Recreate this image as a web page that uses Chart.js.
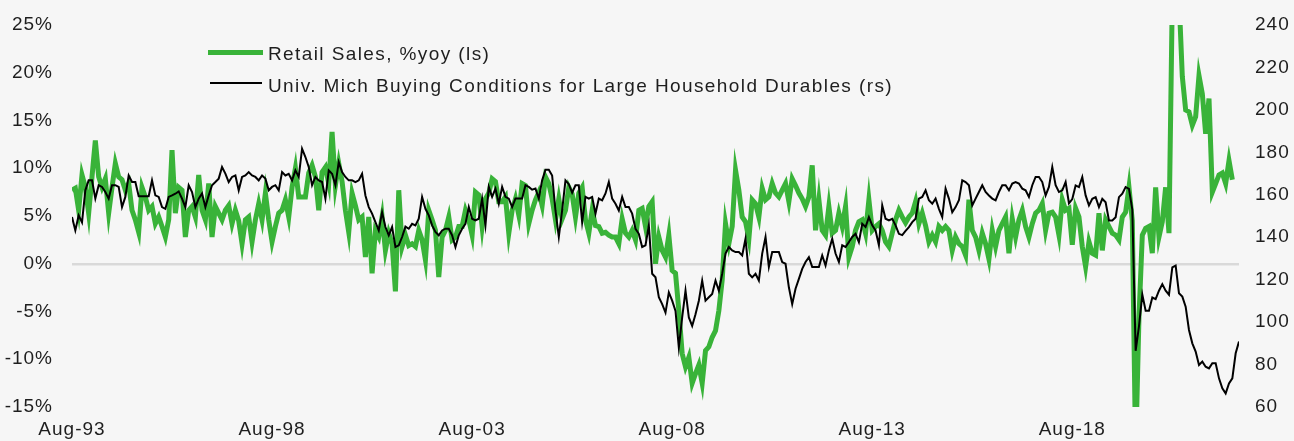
<!DOCTYPE html>
<html lang="en">
<head>
  <meta charset="UTF-8" />
  <title>Retail Sales vs Buying Conditions</title>
  <script src="https://cdn.jsdelivr.net/npm/chart.js"></script>
  <style>
    body {
      margin: 0;
      background: #f6f6f6;
    }

    .wrap {
      position: relative;
      width: 1294px;
      height: 441px;
    }

    .legend {
      position: absolute;
      left: 0;
      top: 0;
      font-family: "Liberation Sans", Arial, sans-serif;
      font-size: 19px;
      color: #1e1e1e;
      letter-spacing: 1.4px;
    }

    .legend .swatch {
      position: absolute;
    }

    .legend .label {
      position: absolute;
      white-space: nowrap;
      line-height: 1;
    }
  </style>
</head>
<body>
  <div class="wrap">
    <canvas id="chart"></canvas>
    <div class="legend">
      <div class="swatch" style="left:208px;top:50px;width:55px;height:5px;background:#39b339"></div>
      <div class="label" id="lbl0" style="left:268px;top:44px"></div>
      <div class="swatch" style="left:210px;top:82px;width:52px;height:2px;background:#000"></div>
      <div class="label" id="lbl1" style="left:268px;top:76px"></div>
    </div>
  </div>

  <script>
    // monthly, first point Aug-93
    const startYear = 1993;
    const startMonth = 7;
    const monthNames = ["Jan", "Feb", "Mar", "Apr", "May", "Jun", "Jul", "Aug", "Sep", "Oct", "Nov", "Dec"];

    const seriesNames = [
      "Retail Sales, %yoy (ls)",
      "Univ. Mich Buying Conditions for Large Household Durables (rs)"
    ];

    // Retail Sales, %yoy (left axis)
    const retailSales = [
      7.7, 7.9, 5.6, 9.3, 8.0, 5.3, 9.1, 12.9, 9.1, 8.0, 8.9, 5.3,
      8.0, 10.5, 9.1, 8.8, 7.7, 8.4, 5.6, 4.6, 3.3, 8.0, 7.0, 5.6,
      6.0, 4.2, 4.9, 3.9, 2.8, 4.6, 11.9, 5.3, 8.0, 7.7, 2.8, 5.6,
      6.0, 4.9, 9.3, 5.6, 4.6, 8.4, 2.8, 6.0, 5.3, 4.6, 5.6, 6.1,
      4.2, 5.6, 4.5, 2.1, 4.6, 4.9, 2.3, 4.6, 6.3, 4.6, 7.4, 4.6,
      2.3, 3.9, 5.3, 5.6, 6.7, 4.9, 8.0, 10.0, 7.0, 7.0, 7.0, 9.5,
      10.3, 9.1, 5.6, 9.6, 10.1, 8.4, 13.8, 8.2, 10.5, 8.6, 5.6, 3.3,
      7.4, 6.1, 4.6, 4.9, 0.7, 4.9, -1.0, 3.5, 2.8, 4.9, 1.4, 3.2,
      2.1, -2.9, 7.7, 1.8, 3.0, 1.9, 2.1, 1.8, 3.5, 2.5, 0.4, 5.6,
      4.6, 3.5, -1.4, 2.8, 3.5, 4.9, 2.5, 2.8, 3.9, 3.9, 5.6, 4.6,
      3.0, 7.5, 7.2, 3.9, 6.8, 7.4, 8.9, 8.6, 6.5, 6.5, 7.0, 3.2,
      5.6, 6.8, 5.1, 8.4, 8.2, 4.2, 5.6, 6.7, 7.5, 6.1, 9.1, 8.4,
      6.8, 4.6, 6.8, 4.7, 5.6, 8.0, 7.3, 4.9, 7.4, 8.0, 4.6, 3.2,
      5.6, 4.0, 3.9, 3.2, 3.3, 3.0, 2.8, 2.8, 2.1, 4.7, 3.2, 2.8,
      3.5, 2.5, 5.6, 5.8, 3.9, 6.0, 6.5, 0.0, 2.8, 1.4, 0.7, 3.0,
      -0.7, -1.0, -4.9, -9.4, -10.8, -9.8, -12.5, -11.5, -10.6, -12.5, -9.1, -8.7,
      -7.7, -7.0, -4.9, -1.7, 4.2, 2.1, 3.9, 9.8, 7.7, 4.9, 4.4, 2.6,
      6.7, 6.3, 4.9, 7.9, 6.7, 7.0, 8.4, 7.4, 7.0, 7.7, 8.4, 6.5,
      8.9, 8.2, 7.4, 6.8, 6.0, 7.0, 10.3, 3.5, 6.7, 3.5, 3.0, 6.0,
      3.2, 3.5, 5.3, 3.9, 6.0, 0.7, 1.8, 3.5, 4.4, 4.6, 3.2, 6.7,
      3.5, 3.9, 4.2, 3.5, 2.3, 1.8, 3.2, 4.6, 5.6, 4.9, 4.3, 4.9,
      5.3, 6.5, 4.2, 5.3, 4.0, 2.3, 3.0, 2.3, 3.9, 3.5, 3.9, 3.5,
      1.4, 2.8, 2.1, 1.8, 0.9, 6.7, 3.5, 2.8, 1.4, 3.2, 2.1, 0.5,
      3.5, 1.8, 3.5, 4.2, 4.9, 1.1, 4.7, 2.8, 4.6, 5.6, 3.9, 2.8,
      4.2, 5.3, 5.6, 6.3, 3.5, 5.3, 5.4, 4.9, 3.0, 6.7, 5.6, 5.8,
      2.0, 5.8, 4.9, 1.8, -0.3, 2.3, 1.1, 0.9, 5.3, 1.4, 4.6, 3.9,
      3.2, 3.0, 2.5, 4.9, 5.4, 8.0, 4.5, -19.9, -5.6, 3.0, 3.7, 3.9,
      1.1, 8.0, 2.8, 4.4, 8.0, 3.2, 28.0, 51.0, 28.0, 19.6, 16.1, 15.9,
      14.5, 15.4, 19.7, 17.8, 13.6, 17.3, 7.5, 8.4, 9.3, 9.5, 8.4, 10.8,
      8.8
    ];

    // Univ. Mich buying conditions, large household durables (right axis)
    const buyingConditions = [
      149.5, 143.2, 150.3, 147.0, 162.1, 166.8, 166.8, 158.2, 164.5, 163.7, 161.3, 158.2,
      164.5, 164.5, 163.7, 154.2, 159.0, 169.1, 166.0, 166.0, 159.3, 159.3, 159.3, 159.3,
      166.8, 159.7, 159.0, 154.2, 153.4, 159.0, 159.7, 160.5, 161.6, 158.2, 154.2, 164.5,
      161.3, 154.2, 158.2, 160.6, 154.2, 159.7, 164.5, 166.0, 167.6, 173.1, 170.0, 166.0,
      168.4, 169.1, 162.1, 168.4, 169.1, 170.7, 169.1, 168.4, 166.8, 169.1, 167.6, 162.1,
      163.7, 164.5, 162.1, 170.7, 169.1, 169.9, 166.8, 171.5, 168.4, 181.7, 177.8, 173.1,
      164.5, 168.4, 166.8, 166.0, 158.2, 171.5, 169.9, 164.5, 175.4, 170.7, 168.4, 166.8,
      166.8, 166.0, 166.8, 169.9, 159.7, 154.2, 151.1, 147.1, 143.2, 151.8, 144.8, 140.9,
      144.8, 135.4, 136.2, 140.1, 145.0, 144.0, 146.3, 145.6, 148.7, 159.0, 153.4, 150.3,
      145.6, 142.5, 140.9, 143.2, 144.0, 144.0, 140.9, 135.4, 140.9, 144.0, 146.3, 154.2,
      148.7, 147.9, 148.7, 158.2, 145.6, 163.7, 159.0, 162.9, 155.8, 163.7, 159.0, 158.2,
      154.2, 158.2, 158.2, 158.2, 164.5, 163.7, 162.4, 162.9, 158.2, 166.8, 171.8, 171.8,
      169.1, 152.6, 140.1, 152.6, 166.8, 165.0, 161.0, 164.5, 164.5, 147.1, 159.0, 158.2,
      159.0, 151.1, 158.2, 157.4, 160.6, 166.0, 158.2, 155.8, 152.6, 159.0, 154.2, 154.2,
      151.1, 144.0, 141.6, 135.4, 136.2, 145.6, 122.8, 121.1, 111.7, 108.5, 104.5, 114.0,
      110.1, 105.3, 88.0, 102.2, 114.8, 102.2, 98.2, 103.7, 110.1, 119.6, 110.1, 111.7,
      113.3, 119.6, 114.8, 122.8, 132.3, 135.4, 133.8, 133.0, 133.0, 131.4, 139.3, 122.8,
      121.1, 122.8, 119.6, 132.3, 140.1, 126.0, 133.0, 133.0, 133.0, 128.3, 127.5, 116.4,
      108.5, 115.7, 120.4, 125.1, 128.3, 130.6, 126.0, 126.0, 126.0, 131.4, 126.7, 133.8,
      139.3, 132.3, 128.3, 136.2, 135.4, 137.7, 140.1, 141.6, 137.7, 146.3, 144.8, 149.5,
      145.6, 143.2, 136.2, 155.0, 148.7, 147.9, 148.7, 145.6, 141.6, 141.0, 143.0, 144.8,
      147.1, 148.7, 158.2, 159.0, 162.1, 157.4, 155.8, 158.2, 153.4, 149.5, 162.9, 158.2,
      151.8, 154.2, 157.4, 166.8, 166.0, 164.5, 155.0, 158.2, 161.3, 164.5, 161.3, 159.7,
      158.2, 157.4, 161.3, 164.5, 164.5, 162.1, 165.3, 166.0, 165.3, 162.9, 162.1, 159.0,
      164.5, 168.4, 168.4, 166.0, 159.7, 163.7, 173.1, 164.5, 161.3, 162.1, 166.0, 156.0,
      158.0, 164.4, 163.6, 168.4, 159.7, 155.0, 158.1, 158.9, 154.2, 158.1, 156.5, 147.9,
      147.9, 149.4, 158.9, 160.5, 163.6, 162.8, 153.0, 86.5, 98.0, 113.0, 105.4, 105.4,
      111.6, 110.8, 114.8, 117.9, 114.8, 112.9, 125.8, 126.6, 113.6, 112.0, 107.3, 96.3,
      90.0, 86.1, 79.8, 81.4, 79.0, 78.2, 80.6, 80.6, 73.5, 68.8, 66.4, 71.1,
      73.5, 85.3, 90.9
    ];

    const leftTicks = [-15, -10, -5, 0, 5, 10, 15, 20, 25];
    const rightTicks = [60, 80, 100, 120, 140, 160, 180, 200, 220, 240];
    const xLabelEvery = 60; // one label per five years

    const months = buyingConditions.map((_, i) => {
      const m = startMonth + i;
      const yy = (startYear + Math.floor(m / 12)) % 100;
      return monthNames[m % 12] + "-" + String(yy).padStart(2, "0");
    });

    document.getElementById("lbl0").textContent = seriesNames[0];
    document.getElementById("lbl1").textContent = seriesNames[1];

    const tickFont = { family: '"Liberation Sans", Arial, sans-serif', size: 19 };
    const tickColor = "#1e1e1e";

    // fixed widths so the plot area sits where the original has it
    function fitVertical(width) {
      return (scale) => {
        scale.width = width;
        scale.paddingTop = 0;
        scale.paddingBottom = 0;
      };
    }

    new Chart(document.getElementById("chart"), {
      type: "line",
      data: {
        labels: months,
        datasets: [
          {
            label: seriesNames[0],
            data: retailSales,
            yAxisID: "y",
            borderColor: "#39b339",
            borderWidth: 5,
            pointRadius: 0,
            tension: 0,
            clip: 0,
            order: 2
          },
          {
            label: seriesNames[1],
            data: buyingConditions,
            yAxisID: "y1",
            borderColor: "#000000",
            borderWidth: 2,
            pointRadius: 0,
            tension: 0,
            clip: 0,
            order: 1
          }
        ]
      },
      options: {
        responsive: true,
        maintainAspectRatio: false,
        animation: false,
        layout: { padding: { top: 25, left: 0, right: 0, bottom: 0 } },
        plugins: {
          legend: { display: false },
          tooltip: { enabled: false }
        },
        scales: {
          x: {
            grid: { display: false },
            border: { display: false },
            ticks: {
              autoSkip: false,
              maxRotation: 0,
              font: tickFont,
              color: tickColor,
              padding: 3,
              callback: (value, index) => (index % xLabelEvery === 0 ? months[index] : null)
            },
            afterFit: (scale) => { scale.height = 34; }
          },
          y: {
            position: "left",
            min: leftTicks[0],
            max: leftTicks[leftTicks.length - 1],
            afterBuildTicks: (scale) => { scale.ticks = leftTicks.map((v) => ({ value: v })); },
            grid: {
              drawTicks: false,
              lineWidth: 2.5,
              color: (ctx) => (ctx.tick && ctx.tick.value === 0 ? "#d9d9d9" : "rgba(0,0,0,0)")
            },
            border: { display: false },
            ticks: {
              font: tickFont,
              color: tickColor,
              padding: 19,
              callback: (v) => v + "%"
            },
            afterFit: fitVertical(72)
          },
          y1: {
            position: "right",
            min: rightTicks[0],
            max: rightTicks[rightTicks.length - 1],
            afterBuildTicks: (scale) => { scale.ticks = rightTicks.map((v) => ({ value: v })); },
            grid: { display: false, drawTicks: false },
            border: { display: false },
            ticks: {
              font: tickFont,
              color: tickColor,
              padding: 16
            },
            afterFit: fitVertical(55)
          }
        }
      },
      plugins: [{
        id: "letterSpacing",
        beforeDraw: (chart) => { chart.ctx.letterSpacing = "1px"; }
      }]
    });
  </script>
</body>
</html>
